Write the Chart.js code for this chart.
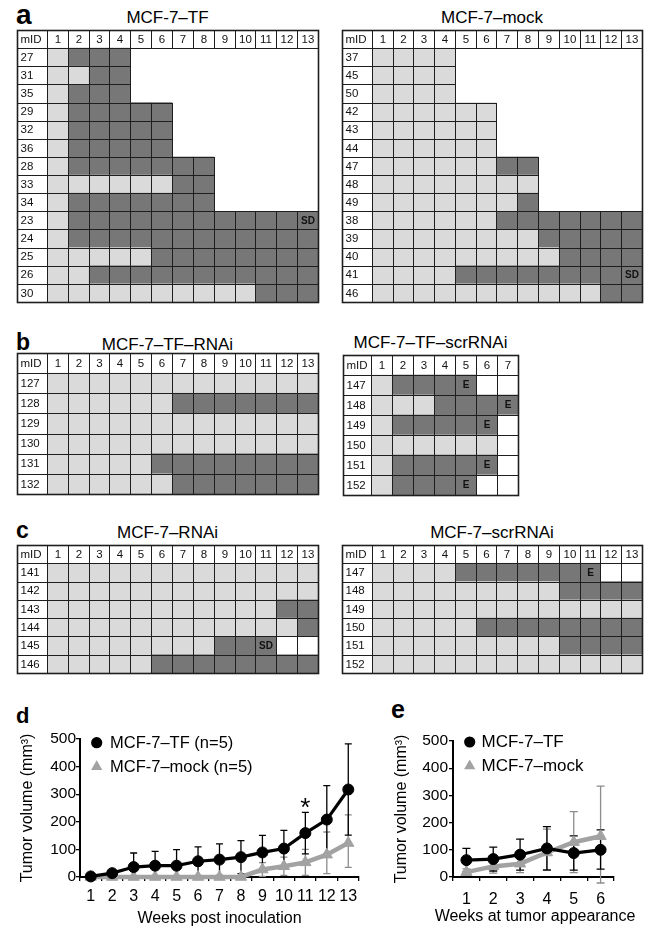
<!DOCTYPE html>
<html lang="en">
<head>
<meta charset="UTF-8">
<title>MCF-7 TF tumour growth</title>
<script src="https://cdn.jsdelivr.net/npm/chart.js"></script>
<style>
  body { margin: 0; background: #fff; }
  #fig { position: relative; width: 648px; height: 928px; overflow: hidden; font-family: "Liberation Sans", Arial, sans-serif; color: #000; }
  #fig canvas { position: absolute; }
  .lbl { position: absolute; font-weight: bold; line-height: 1; }
  .ttl { position: absolute; font-size: 17px; line-height: 1; text-align: center; white-space: nowrap; }
  .axt { position: absolute; font-size: 16px; line-height: 1; text-align: center; white-space: nowrap; }
</style>
</head>
<body>
<div id="fig">
  <div class="lbl" style="left:16px;top:1px;font-size:28px">a</div>
  <div class="lbl" style="left:16px;top:331px;font-size:23px">b</div>
  <div class="lbl" style="left:16px;top:519px;font-size:23px">c</div>
  <div class="lbl" style="left:16px;top:705px;font-size:22px">d</div>
  <div class="lbl" style="left:391px;top:697px;font-size:25px">e</div>

  <div class="ttl" style="left:17px;top:8.7px;width:301px">MCF-7–TF</div>
  <div class="ttl" style="left:342px;top:8.7px;width:300px">MCF-7–mock</div>
  <div class="ttl" style="left:17px;top:335.7px;width:301px">MCF-7–TF–RNAi</div>
  <div class="ttl" style="left:343px;top:334.2px;width:175px">MCF-7–TF–scrRNAi</div>
  <div class="ttl" style="left:17px;top:524.2px;width:301px">MCF-7–RNAi</div>
  <div class="ttl" style="left:342px;top:524.2px;width:300px">MCF-7–scrRNAi</div>

  <canvas id="tabTF" width="305" height="276" style="left:15px;top:28px"></canvas>
  <canvas id="tabMock" width="304" height="276" style="left:340px;top:28px"></canvas>
  <canvas id="tabTFRnai" width="305" height="145" style="left:15px;top:351px"></canvas>
  <canvas id="tabTFScr" width="179" height="144" style="left:341px;top:353px"></canvas>
  <canvas id="tabRnai" width="305" height="132" style="left:15px;top:543px"></canvas>
  <canvas id="tabScr" width="304" height="132" style="left:340px;top:543px"></canvas>

  <canvas id="lineD" width="372" height="203" style="left:0px;top:725px"></canvas>
  <canvas id="lineE" width="263" height="203" style="left:385px;top:725px"></canvas>
  <div class="axt" style="left:433px;top:908px;width:204px">Weeks at tumor appearance</div>
</div>

<script>
// week headers
const weeks13 = ['1', '2', '3', '4', '5', '6', '7', '8', '9', '10', '11', '12', '13'];
const weeks7 = ['1', '2', '3', '4', '5', '6', '7'];

// L = light cell, D = dark cell, S = dark "SD", E = dark "E", W = empty white cell
const tfIds = ['27', '31', '35', '29', '32', '36', '28', '33', '34', '23', '24', '25', '26', '30'];
const tfRows = ['LDDD', 'LLDD', 'LDDD', 'LDDDDD', 'LDDDDD', 'LDDDDD', 'LDDDDDDD', 'LLLLLLDD',
  'LDDDDDDD', 'LDDDDDDDDDDDS', 'LDDDDDDDDDDDD', 'LLLLLDDDDDDDD', 'LLDDDDDDDDDDD', 'LLLLLLLLLLDDD'];

const mockIds = ['37', '45', '50', '42', '43', '44', '47', '48', '49', '38', '39', '40', '41', '46'];
const mockRows = ['LLLL', 'LLLL', 'LLLL', 'LLLLLL', 'LLLLLL', 'LLLLLL', 'LLLLLLDD', 'LLLLLLLL',
  'LLLLLLLD', 'LLLLLLDDDDDDD', 'LLLLLLLLDDDDD', 'LLLLLLLLLDDDD', 'LLLLDDDDDDDDS', 'LLLLLLLLLLLDD'];

const tfRnaiIds = ['127', '128', '129', '130', '131', '132'];
const tfRnaiRows = ['LLLLLLLLLLLLL', 'LLLLLLDDDDDDD', 'LLLLLLLLLLLLL', 'LLLLLLLLLLLLL',
  'LLLLLDDDDDDDD', 'LLLLLLDDDDDDD'];

const tfScrIds = ['147', '148', '149', '150', '151', '152'];
const tfScrRows = ['LDDDEWW', 'LLLDDDE', 'LDDDDEW', 'LLLLLLW', 'LDDDDEW', 'LDDDEWW'];

const rnaiIds = ['141', '142', '143', '144', '145', '146'];
const rnaiRows = ['LLLLLLLLLLLLL', 'LLLLLLLLLLLLL', 'LLLLLLLLLLLDD', 'LLLLLLLLLLLLD',
  'LLLLLLLLDDSWW', 'LLLLLDDDDDDDD'];

const scrIds = ['147', '148', '149', '150', '151', '152'];
const scrRows = ['LLLLDDDDDDEWW', 'LLLLLLLLLDDDD', 'LLLLLLLLLLLLL', 'LLLLLDDDDDDDD',
  'LLLLLLLLLDDDD', 'LLLLLLLLLLLLL'];

// panel d
const weeksD = ['1', '2', '3', '4', '5', '6', '7', '8', '9', '10', '11', '12', '13'];
const tfMeanD = [2, 14, 36, 41, 41, 57, 63, 72, 89, 103, 159, 208, 317];
const tfHighD = [6, 20, 87, 93, 99, 109, 120, 132, 151, 169, 234, 331, 482];
const tfLowD = [0, 8, 0, 0, 0, 5, 6, 12, 27, 37, 84, 85, 152];
const mockMeanD = [0, 0, 0, 0, 0, 0, 0, 0, 27, 39, 53, 81, 123];
const mockHighD = [0, 0, 0, 0, 0, 0, 0, 0, 52, 72, 100, 163, 225];
const mockLowD = [0, 0, 0, 0, 0, 0, 0, 0, 2, 6, 6, 12, 35];

// panel e
const weeksE = ['1', '2', '3', '4', '5', '6'];
const tfMeanE = [62, 66, 82, 105, 88, 100];
const tfHighE = [105, 110, 139, 185, 151, 173];
const tfLowE = [19, 22, 25, 25, 25, 29];
const mockMeanE = [18, 39, 49, 90, 128, 150];
const mockHighE = [30, 62, 82, 176, 240, 334];
const mockLowE = [6, 14, 16, 27, 16, -22];

const FONT = '"Liberation Sans", Arial, sans-serif';
const LIGHT = '#dadada', DARK = '#777777', GREY = '#a2a2a2';
const markText = { S: 'SD', E: 'E' };

Chart.defaults.font.family = FONT;
Chart.defaults.color = '#000';

function cellColor(c) {
  if (c === 'L') return LIGHT;
  if (c === 'W') return '#ffffff';
  return DARK;
}

// strokes every cell and writes its text
const cellPlugin = {
  id: 'cells',
  afterDatasetsDraw(chart) {
    const ctx = chart.ctx;
    ctx.save();
    ctx.strokeStyle = '#1e1e1e';
    ctx.lineWidth = 1;
    ctx.textBaseline = 'middle';
    chart.data.datasets.forEach((ds, i) => {
      const meta = chart.getDatasetMeta(i);
      meta.data.forEach((el, r) => {
        if (ds.data[r] == null) return;
        const p = el.getProps(['x', 'y', 'base', 'height'], true);
        const l = Math.round(Math.min(p.x, p.base)) + 0.5;
        const rt = Math.round(Math.max(p.x, p.base)) + 0.5;
        const t = Math.round(p.y - p.height / 2) + 0.5;
        const b = Math.round(p.y + p.height / 2) + 0.5;
        ctx.strokeRect(l, t, rt - l, b - t);
        const txt = ds.text[r];
        if (!txt) return;
        ctx.fillStyle = '#111';
        if (i === 0) {
          ctx.font = '11.5px ' + FONT;
          ctx.textAlign = 'left';
          ctx.fillText(txt, l + 3, p.y + 0.5);
        } else {
          ctx.font = (r === 0 ? '11.5px ' : 'bold 10px ') + FONT;
          ctx.textAlign = 'center';
          ctx.fillText(txt, (l + rt) / 2, p.y + 0.5);
        }
      });
    });
    const a = chart.chartArea;
    ctx.lineWidth = 1.6;
    ctx.strokeRect(Math.round(a.left) + 0.5, Math.round(a.top) + 0.5,
      Math.round(a.right) - Math.round(a.left), Math.round(a.bottom) - Math.round(a.top));
    ctx.restore();
  }
};

function gridChart(id, ids, rows, weeks, idW) {
  const labels = ['mID'].concat(ids);
  const datasets = [{
    data: labels.map(() => idW),
    backgroundColor: '#ffffff',
    text: labels
  }];
  weeks.forEach((wk, w) => {
    datasets.push({
      data: labels.map((_, r) => r === 0 ? 1 : (w < rows[r - 1].length ? 1 : null)),
      backgroundColor: labels.map((_, r) => r === 0 ? '#ffffff' : cellColor(rows[r - 1][w])),
      text: labels.map((_, r) => r === 0 ? wk : (markText[rows[r - 1][w]] || ''))
    });
  });
  new Chart(document.getElementById(id), {
    type: 'bar',
    data: { labels, datasets },
    options: {
      indexAxis: 'y',
      responsive: false,
      animation: false,
      layout: { padding: 2 },
      datasets: { bar: { barPercentage: 1, categoryPercentage: 1, borderWidth: 0 } },
      scales: {
        x: { stacked: true, display: false, min: 0, max: idW + weeks.length },
        y: { stacked: true, display: false }
      },
      plugins: { legend: { display: false }, tooltip: { enabled: false } }
    },
    plugins: [cellPlugin]
  });
}

gridChart('tabTF', tfIds, tfRows, weeks13, 1.43);
gridChart('tabMock', mockIds, mockRows, weeks13, 1.43);
gridChart('tabTFRnai', tfRnaiIds, tfRnaiRows, weeks13, 1.43);
gridChart('tabTFScr', tfScrIds, tfScrRows, weeks7, 1.35);
gridChart('tabRnai', rnaiIds, rnaiRows, weeks13, 1.43);
gridChart('tabScr', scrIds, scrRows, weeks13, 1.43);

// error bars + significance star
const errorBars = {
  id: 'errorBars',
  beforeDatasetsDraw(chart, args, opts) {
    const { ctx, scales: { x, y } } = chart;
    ctx.save();
    ctx.lineWidth = 1.3;
    for (let i = chart.data.datasets.length - 1; i >= 0; i--) {
      const ds = chart.data.datasets[i];
      ctx.strokeStyle = ds.errColor;
      ds.data.forEach((v, k) => {
        const px = x.getPixelForValue(k);
        const top = y.getPixelForValue(ds.errHigh[k]);
        const bot = y.getPixelForValue(ds.errLow[k]);
        ctx.beginPath();
        ctx.moveTo(px, top); ctx.lineTo(px, bot);
        ctx.moveTo(px - opts.cap, top); ctx.lineTo(px + opts.cap, top);
        ctx.moveTo(px - opts.cap, bot); ctx.lineTo(px + opts.cap, bot);
        ctx.stroke();
      });
    }
    ctx.restore();
  },
  afterDatasetsDraw(chart) {
    const { ctx, scales: { x, y } } = chart;
    chart.data.datasets.forEach(ds => {
      if (ds.starAt == null) return;
      ctx.save();
      ctx.font = '26px ' + FONT;
      ctx.fillStyle = '#000';
      ctx.textAlign = 'center';
      ctx.textBaseline = 'alphabetic';
      ctx.fillText('*', x.getPixelForValue(ds.starAt), y.getPixelForValue(ds.errHigh[ds.starAt]) + 4);
      ctx.restore();
    });
  }
};

// legend drawn inside the plot area
const insideLegend = {
  id: 'insideLegend',
  afterDraw(chart, args, opts) {
    const ctx = chart.ctx, a = chart.chartArea;
    ctx.save();
    ctx.font = opts.size + 'px ' + FONT;
    ctx.textBaseline = 'middle';
    ctx.textAlign = 'left';
    chart.data.datasets.forEach((ds, i) => {
      const cx = a.left + opts.left;
      const cy = a.top + opts.top + i * opts.gap;
      ctx.fillStyle = ds.pointBackgroundColor;
      ctx.beginPath();
      if (ds.pointStyle === 'triangle') {
        const r = 6.5;
        ctx.moveTo(cx, cy - r);
        ctx.lineTo(cx + r * 0.866, cy + r * 0.5);
        ctx.lineTo(cx - r * 0.866, cy + r * 0.5);
        ctx.closePath();
      } else {
        ctx.arc(cx, cy, 5.6, 0, Math.PI * 2);
      }
      ctx.fill();
      ctx.fillStyle = '#000';
      ctx.fillText(ds.label, a.left + opts.textLeft, cy + 0.5);
    });
    ctx.restore();
  }
};

function lineChart(id, cfg) {
  new Chart(document.getElementById(id), {
    type: 'line',
    data: {
      labels: cfg.labels,
      datasets: [{
        label: cfg.tfLabel,
        data: cfg.tf[0], errHigh: cfg.tf[1], errLow: cfg.tf[2], errColor: '#000',
        starAt: cfg.starAt,
        borderColor: '#000', backgroundColor: '#000',
        pointBackgroundColor: '#000', pointBorderColor: '#000',
        pointStyle: 'circle', pointRadius: 5.5, pointBorderWidth: 1,
        borderWidth: 3.2, clip: false
      }, {
        label: cfg.mockLabel,
        data: cfg.mock[0], errHigh: cfg.mock[1], errLow: cfg.mock[2], errColor: '#8c8c8c',
        borderColor: GREY, backgroundColor: GREY,
        pointBackgroundColor: GREY, pointBorderColor: GREY,
        pointStyle: 'triangle', pointRadius: 6.5, pointBorderWidth: 1,
        borderWidth: 4.5, clip: false
      }]
    },
    options: {
      responsive: false,
      animation: false,
      layout: { padding: { top: cfg.padTop, right: cfg.padRight, left: 0, bottom: 0 } },
      scales: {
        x: {
          offset: true,
          grid: { offset: true, drawOnChartArea: false, tickLength: 4, color: '#000', lineWidth: 1.3 },
          border: { display: true, color: '#000', width: 2 },
          ticks: { color: '#000', font: { size: 16 }, padding: cfg.xTickPad, maxRotation: 0, autoSkip: false },
          title: { display: !!cfg.xTitle, text: cfg.xTitle, color: '#000', font: { size: 16 }, padding: { top: 0, bottom: cfg.xTitlePad } },
          afterFit: s => { s.height = 51; }
        },
        y: {
          min: 0, max: 500,
          grid: { drawOnChartArea: false, tickLength: 4, color: '#000', lineWidth: 1.3 },
          border: { display: true, color: '#000', width: 2 },
          ticks: { stepSize: 100, color: '#000', font: { size: 15.5 }, padding: cfg.yTickPad },
          title: { display: true, text: 'Tumor volume (mm³)', color: '#000', font: { size: 16 }, padding: { top: cfg.yTitlePad, bottom: 0 } },
          afterFit: s => { s.width = cfg.yWidth; }
        }
      },
      plugins: {
        legend: { display: false },
        tooltip: { enabled: false },
        errorBars: { cap: cfg.cap },
        insideLegend: cfg.legend
      }
    },
    plugins: [errorBars, insideLegend]
  });
}

lineChart('lineD', {
  labels: weeksD,
  tfLabel: 'MCF-7–TF (n=5)', mockLabel: 'MCF-7–mock (n=5)',
  tf: [tfMeanD, tfHighD, tfLowD], mock: [mockMeanD, mockHighD, mockLowD],
  starAt: 10,
  padTop: 14, padRight: 13, yWidth: 80,
  xTickPad: 6, xTitlePad: 0, yTickPad: 0, yTitlePad: 18,
  xTitle: 'Weeks post inoculation', cap: 3.5,
  legend: { left: 16.7, top: 3.7, gap: 24, textLeft: 30, size: 16.5 }
});

// x title of e sits in the page (it is wider than the plot)
lineChart('lineE', {
  labels: weeksE,
  tfLabel: 'MCF-7–TF', mockLabel: 'MCF-7–mock',
  tf: [tfMeanE, tfHighE, tfLowE], mock: [mockMeanE, mockHighE, mockLowE],
  starAt: null,
  padTop: 16, padRight: 34, yWidth: 68,
  xTickPad: 9, xTitlePad: 2, yTickPad: 1, yTitlePad: 7,
  xTitle: '', cap: 4,
  legend: { left: 16.7, top: 1, gap: 24, textLeft: 28.5, size: 17 }
});
</script>
</body>
</html>
